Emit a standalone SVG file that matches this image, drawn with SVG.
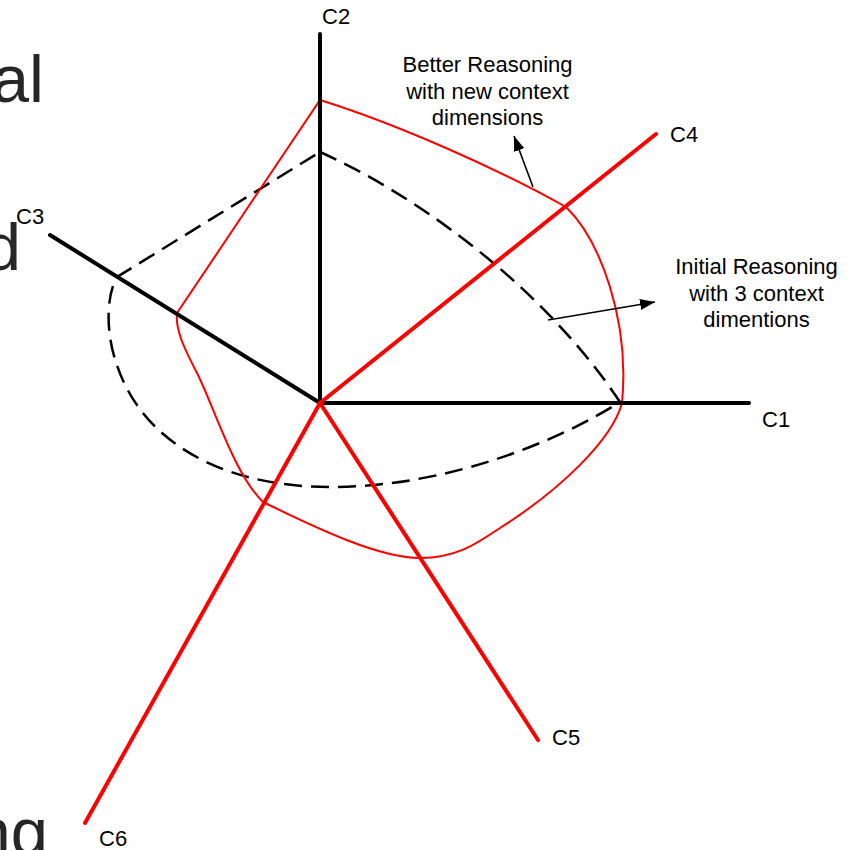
<svg xmlns="http://www.w3.org/2000/svg" width="851" height="850" viewBox="0 0 851 850">
<defs>
<style>
.big{font-family:"Liberation Sans",Arial,sans-serif;font-size:67px;fill:#262626}
.lbl{font-family:"Liberation Sans",Arial,sans-serif;font-size:22px;fill:#000}
.ax{stroke-width:4;stroke-linecap:round;fill:none}
.blk{stroke:#000}
.red{stroke:#ff0000}
.curve{fill:none;stroke:#ff0000;stroke-width:2;stroke-linejoin:miter}
.dash{fill:none;stroke:#000;stroke-width:2.5;stroke-dasharray:18 9}
.arr{stroke:#000;stroke-width:1.6;fill:none}
</style>
<marker id="ah" markerUnits="userSpaceOnUse" markerWidth="16" markerHeight="12" refX="15" refY="5.5" orient="auto">
<path d="M0,0 L15,5.5 L0,11 z" fill="#000"/>
</marker>
</defs>
<rect width="851" height="850" fill="#fff"/>
<g id="bg-text">
<text class="big" x="44" y="102" text-anchor="end">al</text>
<text class="big" x="21" y="270" text-anchor="end">d</text>
<text class="big" x="48" y="855" text-anchor="end">ng</text>
</g>
<g id="connectors">
<path class="dash" d="M320,152 C410,192 540,282 620,402 C560,440 450,487 330,487 C220,487 140,440 116,362 C108,340 104,300 117,277 L320,152"/>
<path class="curve" d="M320,100 C400,125 500,170 566,207 C600,240 630,320 622,403 C612,440 560,490 500,528 C475,545 455,558 420,558 C380,558 320,530 263,502 C235,475 215,410 198,375 C185,350 175,330 177,313 L320,100 Z"/>
<line class="arr" x1="533" y1="187" x2="514" y2="136" marker-end="url(#ah)"/>
<line class="arr" x1="548" y1="320" x2="655" y2="302" marker-end="url(#ah)"/>
</g>
<g id="axis-C1"><line class="ax blk" x1="320" y1="403" x2="749" y2="403"/><text class="lbl" x="762" y="427">C1</text></g>
<g id="axis-C2"><line class="ax blk" x1="320" y1="403" x2="320" y2="34"/><text class="lbl" x="322" y="24">C2</text></g>
<g id="axis-C3"><line class="ax blk" x1="320" y1="403" x2="50" y2="235"/><text class="lbl" x="16" y="224">C3</text></g>
<g id="axis-C4"><line class="ax red" x1="320" y1="403" x2="656" y2="134"/><text class="lbl" x="670" y="142">C4</text></g>
<g id="axis-C5"><line class="ax red" x1="320" y1="403" x2="538" y2="740"/><text class="lbl" x="552" y="745">C5</text></g>
<g id="axis-C6"><line class="ax red" x1="320" y1="403" x2="85" y2="823"/><text class="lbl" x="99" y="846">C6</text></g>
<g id="note-better">
<text class="lbl" text-anchor="middle"><tspan x="487.5" y="72">Better Reasoning</tspan><tspan x="487.5" y="98.5">with new context</tspan><tspan x="487.5" y="125">dimensions</tspan></text>
</g>
<g id="note-initial">
<text class="lbl" text-anchor="middle"><tspan x="756.5" y="274">Initial Reasoning</tspan><tspan x="756.5" y="300.5">with 3 context</tspan><tspan x="756.5" y="327">dimentions</tspan></text>
</g>
</svg>
